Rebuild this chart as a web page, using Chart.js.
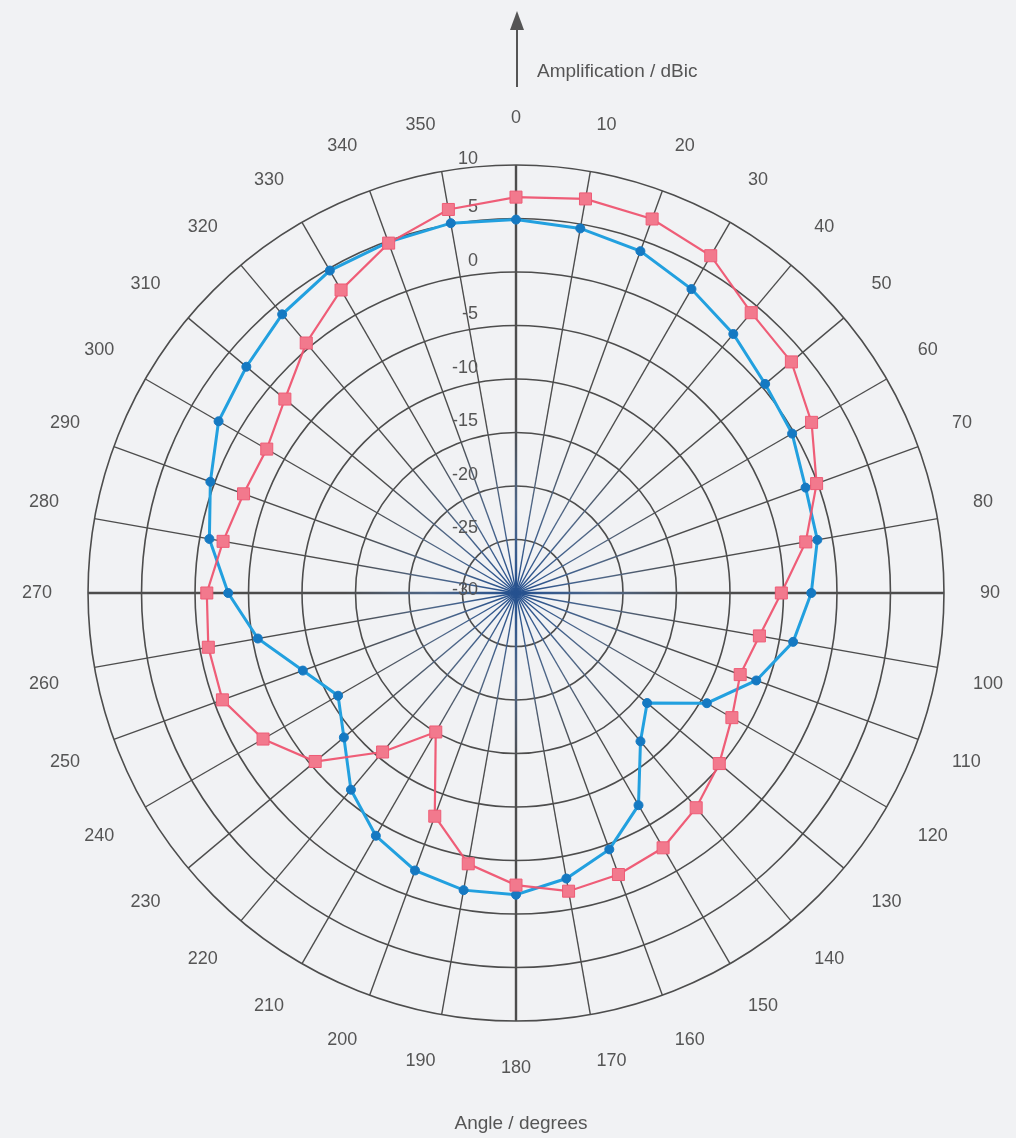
<!DOCTYPE html>
<html lang="en">
<head>
<meta charset="UTF-8">
<title>Antenna radiation pattern</title>
<script src="https://cdn.jsdelivr.net/npm/chart.js"></script>
<style>
  html, body { margin: 0; padding: 0; background: #f1f2f4; }
  .polar-wrap { position: relative; width: 1016px; height: 1138px; }
</style>
</head>
<body>
<div class="polar-wrap"><canvas id="polarCanvas"></canvas></div>
<script>
// angle labels, one per spoke (degrees)
const angleLabels = ['0','10','20','30','40','50','60','70','80','90','100','110',
  '120','130','140','150','160','170','180','190','200','210','220','230',
  '240','250','260','270','280','290','300','310','320','330','340','350'];

// gain in dBic
const gainRed = [7.0, 7.4, 7.2, 6.4, 4.2, 3.6, 1.9, -0.1, -2.5, -5.2, -6.9, -7.7,
  -6.7, -5.2, -3.8, -2.5, -2.0, -1.7, -2.7, -4.3, -7.8, -15.0, -10.6, -5.5,
  -2.7, -0.8, -0.8, -1.1, -2.2, -2.9, -3.1, -1.8, 0.5, 2.7, 4.8, 6.4];

const gainBlue = [4.9, 4.6, 4.0, 2.8, 1.6, 0.4, -0.2, -1.2, -1.4, -2.4, -3.7, -6.1,
  -9.4, -14.0, -11.9, -7.1, -4.5, -2.9, -1.8, -1.8, -2.4, -3.8, -6.0, -9.0,
  -10.8, -8.8, -5.5, -3.1, -0.9, 0.4, 2.1, 2.9, 4.0, 4.8, 4.9, 5.1];

// ring labels along the vertical axis
const ringTicks = [-30, -25, -20, -15, -10, -5, 0, 5, 10];

const FONT = '"Liberation Sans", Arial, sans-serif';
const TEXT = '#555';

// spokes go bluish toward the middle
function spokeColor(c) {
  const s = c.chart.scales.r;
  if (!s || !s.drawingArea) return '#4d4d4d';
  const g = c.chart.ctx.createRadialGradient(s.xCenter, s.yCenter, 0, s.xCenter, s.yCenter, s.drawingArea);
  g.addColorStop(0, '#24508f');
  g.addColorStop(0.2, '#4f6788');
  g.addColorStop(0.4, '#4d4d4d');
  g.addColorStop(1, '#4d4d4d');
  return g;
}

const ringLabels = {
  id: 'ringLabels',
  beforeDatasetsDraw(chart) {
    const r = chart.scales.r, ctx = chart.ctx;
    ctx.save();
    ctx.font = '18px ' + FONT;
    ctx.fillStyle = TEXT;
    ctx.textAlign = 'right';
    ctx.textBaseline = 'middle';
    ringTicks.forEach(v => {
      const d = r.getDistanceFromCenterForValue(v);
      const lift = v === ringTicks[0] ? 3 : (v === ringTicks[ringTicks.length - 1] ? 6 : 11);
      ctx.fillText(String(v), r.xCenter - 38, r.yCenter - d - lift);
    });
    ctx.restore();
  }
};

const axisTitles = {
  id: 'axisTitles',
  afterDraw(chart) {
    const r = chart.scales.r, ctx = chart.ctx;
    const x = r.xCenter + 1;
    ctx.save();
    // arrow above the 0 deg axis
    ctx.strokeStyle = '#555';
    ctx.fillStyle = '#555';
    ctx.lineWidth = 2;
    ctx.beginPath();
    ctx.moveTo(x, 87);
    ctx.lineTo(x, 26);
    ctx.stroke();
    ctx.beginPath();
    ctx.moveTo(x, 11);
    ctx.lineTo(x - 7, 30);
    ctx.lineTo(x + 7, 30);
    ctx.closePath();
    ctx.fill();

    ctx.font = '19px ' + FONT;
    ctx.fillStyle = TEXT;
    ctx.textBaseline = 'middle';
    ctx.textAlign = 'left';
    ctx.fillText('Amplification / dBic', x + 20, 72);
    ctx.textAlign = 'center';
    ctx.fillText('Angle / degrees', x + 4, 1124);
    ctx.restore();
  }
};

new Chart(document.getElementById('polarCanvas'), {
  type: 'radar',
  data: {
    labels: angleLabels,
    datasets: [{
      label: 'Red',
      data: gainRed,
      borderColor: 'rgba(238, 84, 112, 0.95)',
      borderWidth: 2.2,
      pointStyle: 'rect',
      pointRadius: 8.5,
      pointBackgroundColor: '#f2798d',
      pointBorderColor: '#ee5c76',
      pointBorderWidth: 1,
      fill: false
    }, {
      label: 'Blue',
      data: gainBlue,
      borderColor: '#22a0df',
      borderWidth: 3,
      pointStyle: 'circle',
      pointRadius: 4.5,
      pointBackgroundColor: '#1579c2',
      pointBorderColor: '#1579c2',
      pointBorderWidth: 1,
      fill: false
    }]
  },
  options: {
    responsive: true,
    maintainAspectRatio: false,
    animation: false,
    layout: { padding: { left: 19, right: 9, top: 99, bottom: 51 } },
    elements: { line: { tension: 0 } },
    scales: {
      r: {
        min: -30,
        max: 10,
        ticks: { stepSize: 5, display: false },
        grid: { circular: true, color: '#4d4d4d', lineWidth: 1.6 },
        angleLines: {
          display: true,
          color: spokeColor,
          lineWidth: c => (c.index % 9 === 0 ? 2.4 : 1.4)
        },
        pointLabels: {
          color: TEXT,
          padding: 36,
          font: { family: FONT, size: 18 }
        }
      }
    },
    plugins: {
      legend: { display: false },
      tooltip: { enabled: false }
    }
  },
  plugins: [ringLabels, axisTitles]
});
</script>
</body>
</html>
